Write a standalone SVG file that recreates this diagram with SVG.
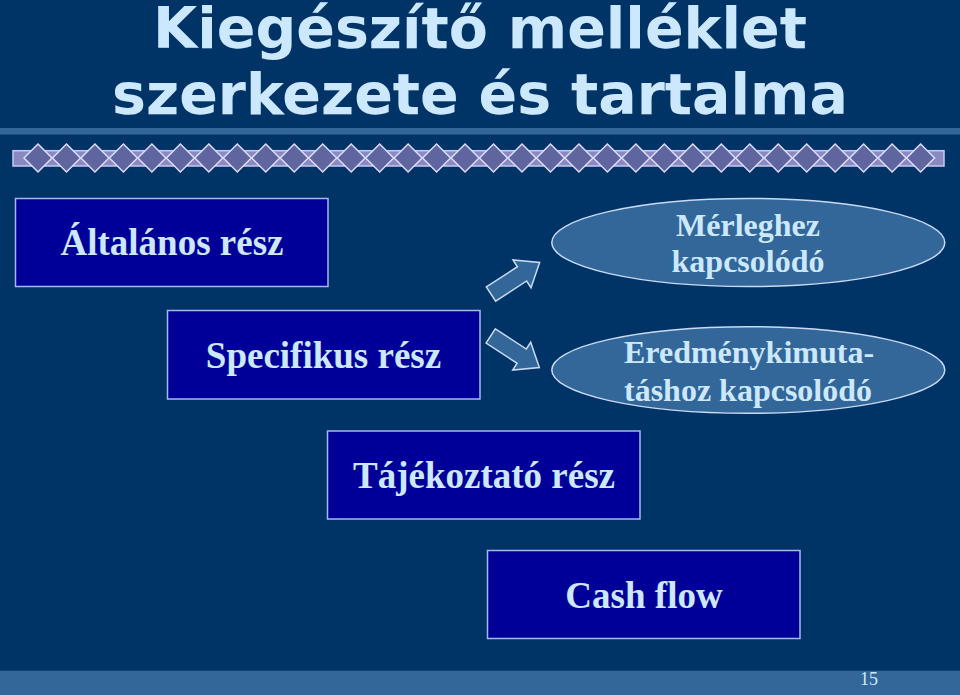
<svg xmlns="http://www.w3.org/2000/svg" xmlns:xlink="http://www.w3.org/1999/xlink" width="960" height="695" viewBox="0 0 960 695">
<defs>
<style>
.title{font-family:"DejaVu Sans",sans-serif;font-weight:bold;font-size:57px;fill:#CCE8FF;text-anchor:middle}
.box{fill:#000099;stroke:#A8B8EE;stroke-width:1.5}
.ell{fill:#336699;stroke:#C8DAF5;stroke-width:1.5}
.lbl{font-family:"Liberation Serif","Times New Roman",serif;font-weight:bold;font-size:37px;fill:#CCE8FF;text-anchor:middle}
.elbl{font-family:"Liberation Serif","Times New Roman",serif;font-weight:bold;font-size:32px;fill:#CCE8FF;text-anchor:middle}
.arrow{fill:#336699;stroke:#C8DAF5;stroke-width:1.5;stroke-linejoin:miter}
.dia{fill:#5E659F;stroke:#DCDCFA;stroke-width:1.5}
</style>
<polygon id="d" class="dia" points="0,-14 14,0 0,14 -14,0"/>
<polygon id="arr" points="0,-8.5 37,-8.5 37,-16.5 58,0 37,16.5 37,8.5 0,8.5"/>
</defs>
<rect width="960" height="695" fill="#003366"/>
<rect x="0" y="128" width="960" height="6.5" fill="#336699"/>
<g id="ornament">
<rect x="13" y="150.7" width="931" height="15.3" fill="#8A8AC2" stroke="#C8C8F0" stroke-width="1.5"/>
<use xlink:href="#d" x="38" y="158"/><use xlink:href="#d" x="66.47" y="158"/><use xlink:href="#d" x="94.94" y="158"/><use xlink:href="#d" x="123.41" y="158"/>
<use xlink:href="#d" x="151.88" y="158"/><use xlink:href="#d" x="180.35" y="158"/><use xlink:href="#d" x="208.82" y="158"/><use xlink:href="#d" x="237.29" y="158"/>
<use xlink:href="#d" x="265.76" y="158"/><use xlink:href="#d" x="294.23" y="158"/><use xlink:href="#d" x="322.7" y="158"/><use xlink:href="#d" x="351.17" y="158"/>
<use xlink:href="#d" x="379.64" y="158"/><use xlink:href="#d" x="408.11" y="158"/><use xlink:href="#d" x="436.58" y="158"/><use xlink:href="#d" x="465.05" y="158"/>
<use xlink:href="#d" x="493.52" y="158"/><use xlink:href="#d" x="521.99" y="158"/><use xlink:href="#d" x="550.46" y="158"/><use xlink:href="#d" x="578.93" y="158"/>
<use xlink:href="#d" x="607.4" y="158"/><use xlink:href="#d" x="635.87" y="158"/><use xlink:href="#d" x="664.34" y="158"/><use xlink:href="#d" x="692.81" y="158"/>
<use xlink:href="#d" x="721.28" y="158"/><use xlink:href="#d" x="749.75" y="158"/><use xlink:href="#d" x="778.22" y="158"/><use xlink:href="#d" x="806.69" y="158"/>
<use xlink:href="#d" x="835.16" y="158"/><use xlink:href="#d" x="863.63" y="158"/><use xlink:href="#d" x="892.1" y="158"/><use xlink:href="#d" x="920.57" y="158"/>
</g>
<g id="title">
<text class="title" x="480" y="48">Kiegészítő melléklet</text>
<text class="title" x="480" y="114">szerkezete és tartalma</text>
</g>
<g id="altalanos">
<rect class="box" x="15.5" y="198.5" width="312.5" height="88"/>
<text class="lbl" x="172" y="255">Általános rész</text>
</g>
<g id="specifikus">
<rect class="box" x="167.5" y="310.5" width="312.5" height="88.5"/>
<text class="lbl" x="323.5" y="368">Specifikus rész</text>
</g>
<g id="tajekoztato">
<rect class="box" x="327.5" y="431" width="312.5" height="88"/>
<text class="lbl" x="484" y="488">Tájékoztató rész</text>
</g>
<g id="cashflow">
<rect class="box" x="487.5" y="550.5" width="312.5" height="88"/>
<text class="lbl" x="644" y="608">Cash flow</text>
</g>
<g id="merleghez">
<ellipse class="ell" cx="748.3" cy="242.5" rx="196.5" ry="44"/>
<text class="elbl" x="748" y="236">Mérleghez</text>
<text class="elbl" x="748" y="272">kapcsolódó</text>
</g>
<g id="eredmeny">
<ellipse class="ell" cx="748.3" cy="370" rx="196.5" ry="43.3"/>
<text class="elbl" x="749" y="363">Eredménykimuta-</text>
<text class="elbl" x="748" y="401">táshoz kapcsolódó</text>
</g>
<g id="connectors">
<use xlink:href="#arr" class="arrow" transform="translate(491,294) rotate(-33)"/>
<use xlink:href="#arr" class="arrow" transform="translate(490.7,336) rotate(33)"/>
</g>
<rect x="0" y="670.7" width="960" height="24.3" fill="#336699"/>
<text x="869" y="685" font-family="Liberation Serif,Times New Roman,serif" font-size="18" fill="#CCE8FF" text-anchor="middle">15</text>
</svg>
